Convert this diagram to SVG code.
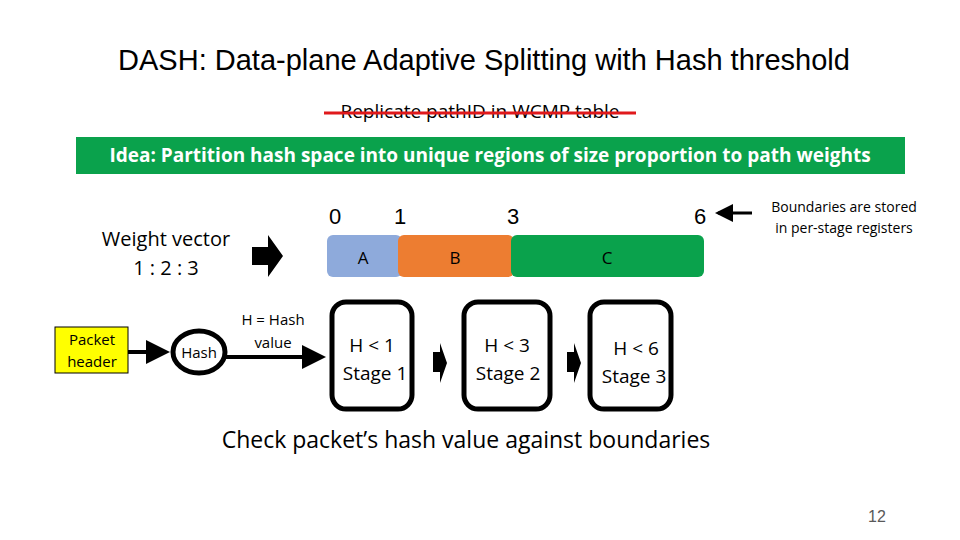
<svg xmlns="http://www.w3.org/2000/svg" width="960" height="540" viewBox="0 0 960 540">
<style>
.t{font-family:"Liberation Sans",Arial,sans-serif;fill:#000}
.c{font-family:"Open Sans","Noto Sans",sans-serif;fill:#000}
.st{fill:#fff;stroke:#000;stroke-width:5}
</style>
<defs><marker id="ah" markerWidth="6" markerHeight="6" refX="5" refY="3" orient="auto" markerUnits="strokeWidth"><path d="M0,0 L6,3 L0,6 z" fill="#000"/></marker></defs>
<rect width="960" height="540" fill="#fff"/>
<text class="t" x="484" y="70" font-size="29" text-anchor="middle">DASH: Data-plane Adaptive Splitting with Hash threshold</text>
<text class="c" x="480" y="118" font-size="19" text-anchor="middle">Replicate pathID in WCMP table</text>
<line x1="324" y1="113" x2="636" y2="113" stroke="#e0191c" stroke-width="3"/>
<rect x="76" y="137" width="829" height="37" fill="#0aa24c"/>
<text class="c" x="490" y="162" font-size="19" font-weight="bold" fill="#fff" style="fill:#fff" text-anchor="middle">Idea: Partition hash space into unique regions of size proportion to path weights</text>
<g id="weight"><text class="c" x="166" y="246" font-size="20" text-anchor="middle">Weight vector</text><text class="c" x="166" y="275" font-size="20" text-anchor="middle">1 : 2 : 3</text></g>
<path d="M252,247 H268 V235 L283,256 L268,277 V265 H252 Z" fill="#000"/>
<g id="bar">
<text class="t" x="335" y="224" font-size="22" text-anchor="middle">0</text>
<text class="t" x="400" y="224" font-size="22" text-anchor="middle">1</text>
<text class="t" x="513" y="224" font-size="22" text-anchor="middle">3</text>
<text class="t" x="700" y="224" font-size="22" text-anchor="middle">6</text>
<rect x="327" y="235" width="75" height="42" rx="6" fill="#8eaadb"/>
<rect x="398" y="235" width="116" height="42" rx="6" fill="#ed7d31"/>
<rect x="511" y="235" width="193" height="42" rx="6" fill="#0aa24c"/>
<text class="c" x="363" y="264" font-size="17" text-anchor="middle">A</text>
<text class="c" x="455" y="264" font-size="17" text-anchor="middle">B</text>
<text class="c" x="607" y="264" font-size="17" text-anchor="middle">C</text>
</g>
<g id="note"><text class="c" x="844" y="212" font-size="14" text-anchor="middle">Boundaries are stored</text><text class="c" x="844" y="233" font-size="14" text-anchor="middle">in per-stage registers</text></g>
<g id="packet"><rect x="55" y="327" width="73" height="46" fill="#ffff00" stroke="#000" stroke-width="1"/><text class="c" x="92" y="345" font-size="15" text-anchor="middle">Packet</text><text class="c" x="92" y="367" font-size="15" text-anchor="middle">header</text></g>
<g id="hash"><ellipse cx="199" cy="352" rx="26" ry="21" fill="#fff" stroke="#000" stroke-width="5"/><text class="c" x="199" y="358" font-size="15" text-anchor="middle">Hash</text></g>
<text class="c" x="273" y="325" font-size="15" text-anchor="middle">H = Hash</text>
<text class="c" x="273" y="348" font-size="15" text-anchor="middle">value</text>
<g id="s1"><rect class="st" x="332" y="302" width="80" height="107" rx="14"/><text class="c" x="372" y="352" font-size="19" text-anchor="middle">H &lt; 1</text><text class="c" x="375" y="380" font-size="19" text-anchor="middle">Stage 1</text></g>
<g id="s2"><rect class="st" x="464" y="302" width="86" height="107" rx="14"/><text class="c" x="507" y="352" font-size="19" text-anchor="middle">H &lt;  3</text><text class="c" x="508" y="380" font-size="19" text-anchor="middle">Stage 2</text></g>
<g id="s3"><rect class="st" x="590" y="302" width="81" height="107" rx="14"/><text class="c" x="636" y="355" font-size="19" text-anchor="middle">H &lt;  6</text><text class="c" x="634" y="383" font-size="19" text-anchor="middle">Stage 3</text></g>
<g id="connectors">
<line x1="128" y1="352" x2="166" y2="352" stroke="#000" stroke-width="4" marker-end="url(#ah)"/>
<line x1="225" y1="357" x2="322" y2="357" stroke="#000" stroke-width="4" marker-end="url(#ah)"/>
<line x1="752" y1="213" x2="718" y2="213" stroke="#000" stroke-width="3" marker-end="url(#ah)"/>
<path d="M433,352 H440 V343 L447,363 L440,383 V372 H433 Z" fill="#000"/>
<path d="M567,352 H574 V343 L581,363 L574,383 V372 H567 Z" fill="#000"/>
</g>
<text class="c" x="466" y="448" font-size="23" text-anchor="middle">Check packet’s hash value against boundaries</text>
<text class="t" x="877" y="522" font-size="16" fill="#595959" style="fill:#595959" text-anchor="middle">12</text>
</svg>
